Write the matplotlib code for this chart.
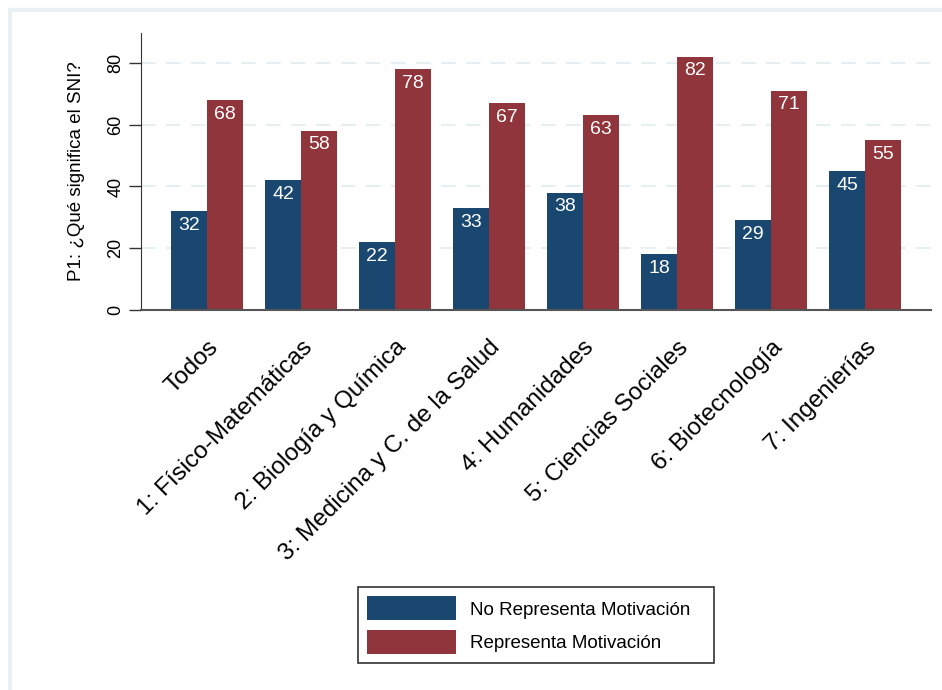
import matplotlib
matplotlib.use("Agg")
import matplotlib.pyplot as plt
import matplotlib.transforms as mtransforms
import numpy as np
from matplotlib.patches import Rectangle, Patch

plt.rcParams["font.family"] = ["Liberation Sans", "DejaVu Sans"]

categories = ["Todos", "1: Físico-Matemáticas", "2: Biología y Química",
              "3: Medicina y C. de la Salud", "4: Humanidades",
              "5: Ciencias Sociales", "6: Biotecnología", "7: Ingenierías"]
no_motiv = [32, 42, 22, 33, 38, 18, 29, 45]
motiv = [68, 58, 78, 67, 63, 82, 71, 55]
series_names = ["No Representa Motivación", "Representa Motivación"]
yticks = [0, 20, 40, 60, 80]

BLUE = "#1a476f"
RED = "#90353b"
GRID = "#e6eef1"

W, H = 942, 690
fig = plt.figure(figsize=(W / 100, H / 100), dpi=100)

# light outer frame like Stata's graph region (right/bottom edges run off the image)
fig.add_artist(Rectangle((9.5 / W, -0.1), 1.2, 1.1 - 9.5 / H, transform=fig.transFigure,
                         fill=False, edgecolor="#e8f0f3", linewidth=3))

ax = fig.add_axes([141 / W, 1 - 310 / H, 790 / W, 277 / H])
x = np.arange(len(categories))
bw = 0.378
b1 = ax.bar(x - bw / 2, no_motiv, bw, color=BLUE, zorder=2)
b2 = ax.bar(x + bw / 2, motiv, bw, color=RED, zorder=2)

for bars, vals in ((b1, no_motiv), (b2, motiv)):
    for rect, v in zip(bars, vals):
        ax.annotate(f"{v}", (rect.get_x() + rect.get_width() / 2, v),
                    xytext=(0, -4), textcoords="offset points",
                    ha="center", va="top", color="white", fontsize=14, zorder=3)

ax.set_xlim(-0.702, 7.702)
ax.set_ylim(0, 89.7)
ax.set_yticks(yticks)
ax.set_yticklabels([str(t) for t in yticks], rotation=90, va="center", fontsize=13)
for t in yticks[1:]:
    ax.axhline(t, color=GRID, linewidth=1.5, dashes=(7, 5), zorder=1)

ax.set_xticks(x)
ax.set_xticklabels(categories, rotation=45, ha="right", rotation_mode="anchor", fontsize=17.5)
shift = mtransforms.ScaledTranslation(-0.06, 0, fig.dpi_scale_trans)
for lab in ax.get_xticklabels():
    lab.set_transform(lab.get_transform() + shift)
ax.tick_params(axis="x", length=0, pad=19)
ax.tick_params(axis="y", length=9, width=1, pad=3, color="#333333")
ax.set_ylabel("P1: ¿Qué significa el SNI?", fontsize=13.5, labelpad=16)

for s in ("top", "right"):
    ax.spines[s].set_visible(False)
ax.spines["left"].set_color("#333333")
ax.spines["bottom"].set_color("#555555")
ax.spines["bottom"].set_linewidth(1.5)

handles = [Patch(facecolor=BLUE), Patch(facecolor=RED)]
leg = fig.legend(handles, series_names, loc="upper left", mode="expand",
                 bbox_to_anchor=(358 / W, 1 - 664 / H, 356 / W, 77 / H), fontsize=13.5,
                 frameon=True, fancybox=False, edgecolor="black",
                 handlelength=4.7, handleheight=1.6, handletextpad=0.75,
                 borderpad=0.5, labelspacing=0.5, borderaxespad=0)
leg.get_frame().set_linewidth(1.2)

fig.savefig("out.png", dpi=100, facecolor="white")
